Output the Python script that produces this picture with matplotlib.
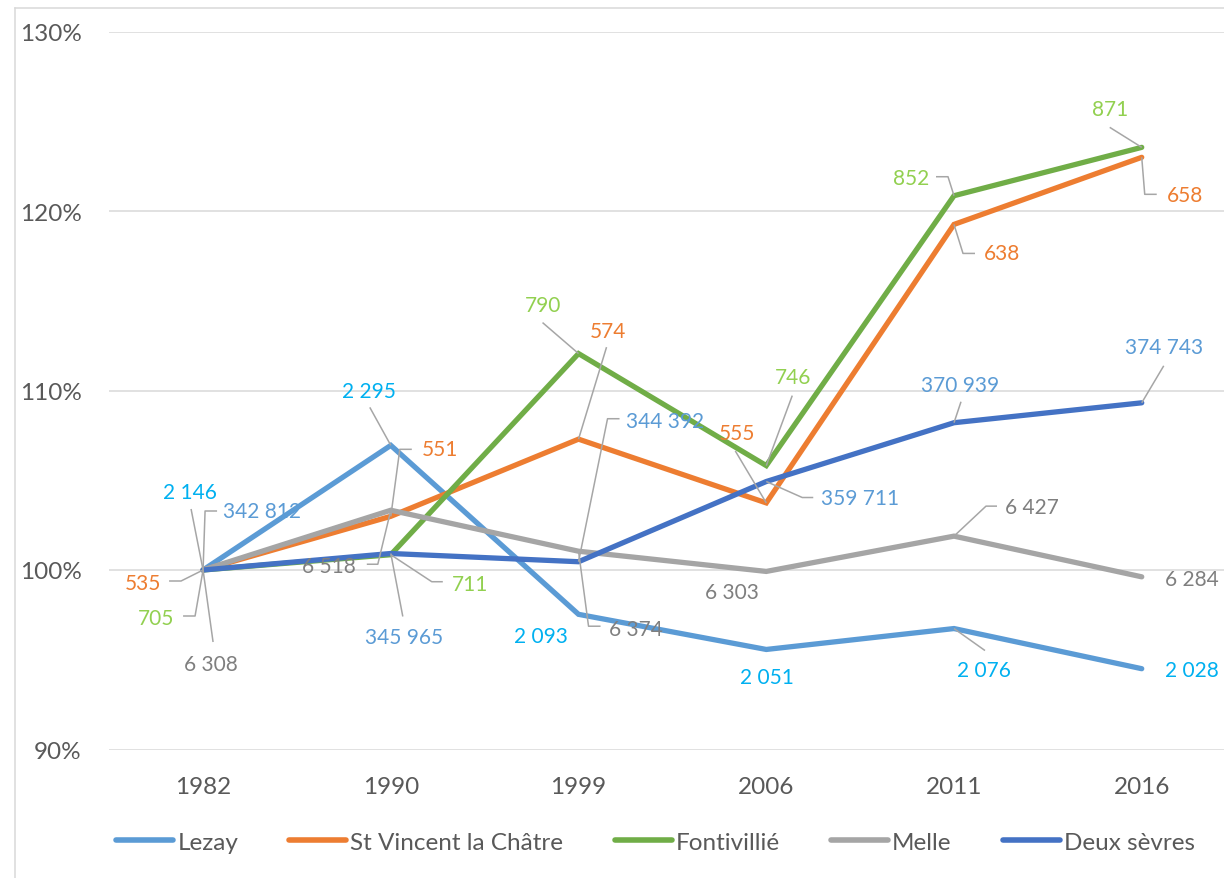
import matplotlib
matplotlib.use("Agg")
import matplotlib.pyplot as plt
from matplotlib.lines import Line2D
import numpy as np

# ---------------- data ----------------
years = ["1982", "1990", "1999", "2006", "2011", "2016"]
series_names = ["Lezay", "St Vincent la Châtre", "Fontivillié", "Melle", "Deux sèvres"]
lezay = [2146, 2295, 2093, 2051, 2076, 2028]
st_vincent = [535, 551, 574, 555, 638, 658]
fontivillie = [705, 711, 790, 746, 852, 871]
melle = [6308, 6518, 6374, 6303, 6427, 6284]
deux_sevres = [342812, 345965, 344392, 359711, 370939, 374743]
y_ticks = [0.90, 1.00, 1.10, 1.20, 1.30]

# ---------------- style ----------------
line_colors = ["#5B9BD5", "#ED7D31", "#70AD47", "#A5A5A5", "#4472C4"]
label_colors = ["#00B0F0", "#ED7D31", "#92D050", "#7F7F7F", "#5B9BD5"]
FONT = "Lato"
plt.rcParams["font.family"] = [FONT, "DejaVu Sans"]

# label layout: per point -> (text dx, text dy, leader path) in image pixels relative to point
layouts = [
    [(-13, -78, [(-12, -61)]), (-22, -54, [(-21, -38)]), (-38, 22, []),
     (1, 28, []), (30, 41, [(31, 22)]), (50, 1, [])],
    [(-60, 13, [(-22, 11), (-34, 11)]), (49, -67, [(9, -67), (21, -67)]), (29, -108, [(28, -92)]),
     (-29, -70, [(-31, -52)]), (48, 29, [(9, 29), (21, 29)]), (43, 38, [(3, 37), (15, 37)])],
    [(-47, 48, [(-8, 46), (-20, 46)]), (79, 29, [(41, 27), (52, 27)]), (-35, -49, [(-36, -31)]),
     (27, -89, [(26, -70)]), (-43, -18, [(-6, -19), (-18, -19)]), (-32, -38, [(-32, -20)])],
    [(8, 94, [(10, 72)]), (-62, 56, [(-13, 54), (-24, 54)]), (57, 78, [(10, 75), (22, 75)]),
     (-34, 21, []), (78, -29, [(32, -30), (43, -30)]), (50, 2, [])],
    [(59, -59, [(2, -59), (14, -59)]), (13, 84, [(12, 63)]), (87, -141, [(29, -143), (41, -143)]),
     (94, 16, [(36, 16), (47, 16)]), (6, -38, [(7, -21)]), (22, -56, [(22, -37)])],
]

W, H = 1224, 879
fig = plt.figure(figsize=(W / 100, H / 100), dpi=100)
ax_left, ax_right, ax_top, ax_bot = 109.2, 1235.6, 32.5, 750.5
ax = fig.add_axes([ax_left / W, 1 - ax_bot / H, (ax_right - ax_left) / W, (ax_bot - ax_top) / H])

x = np.arange(len(years))
ax.set_xlim(-0.5, len(years) - 0.5)
ax.set_ylim(0.90, 1.30)

for s in ax.spines.values():
    s.set_visible(False)
ax.set_yticks(y_ticks)
ax.set_yticklabels([f"{int(round(t * 100))}%" for t in y_ticks])
ax.set_xticks(x)
ax.set_xticklabels(years)
ax.tick_params(axis="both", length=0, labelsize=17.5, labelcolor="#595959")
ax.tick_params(axis="y", pad=20)
ax.tick_params(axis="x", pad=19)
ax.grid(axis="y", color="#D9D9D9", linewidth=1.1)
ax.set_axisbelow(True)

all_series = [lezay, st_vincent, fontivillie, melle, deux_sevres]
for k, vals in enumerate(all_series):
    vals = np.asarray(vals, dtype=float)
    ratio = vals / vals[0]
    ax.plot(x, ratio, color=line_colors[k], lw=3.8, solid_capstyle="round",
            solid_joinstyle="miter", zorder=3 + k, label=series_names[k])

# labels with leader lines
inv = ax.transData.inverted()
for k, vals in enumerate(all_series):
    vals = np.asarray(vals, dtype=float)
    ratio = vals / vals[0]
    for i in range(len(years)):
        px, py = ax.transData.transform((x[i], ratio[i]))
        tdx, tdy, path = layouts[k][i]
        if path:
            pts = [(px, py)] + [(px + dx, py - dy) for dx, dy in path]
            dpts = inv.transform(pts)
            ax.plot(dpts[:, 0], dpts[:, 1], color="#A6A6A6", lw=1.1, zorder=10,
                    clip_on=False, solid_capstyle="butt")
        tx, ty = inv.transform((px + tdx, py - tdy))
        txt = f"{int(vals[i]):,}".replace(",", " ")
        ax.text(tx, ty, txt, color=label_colors[k], fontsize=15, ha="center", va="center",
                zorder=11, clip_on=False)

# chart border (left and top)
fig.add_artist(Line2D([15 / W, 15 / W], [1 - 9 / H, 0], color="#D9D9D9", lw=1.1))
fig.add_artist(Line2D([15 / W, 1], [1 - 9 / H, 1 - 9 / H], color="#D9D9D9", lw=1.1))

leg_handles = [Line2D([0], [0], color=c, lw=4, solid_capstyle="round") for c in line_colors]
leg = fig.legend(leg_handles, series_names, loc="center", bbox_to_anchor=(655.5 / W, 1 - 843 / H),
                 ncol=5, frameon=False, fontsize=17.5, handlelength=2.35, handletextpad=0.17,
                 columnspacing=2.1, labelcolor="#595959")

fig.savefig("out.png", dpi=100)
